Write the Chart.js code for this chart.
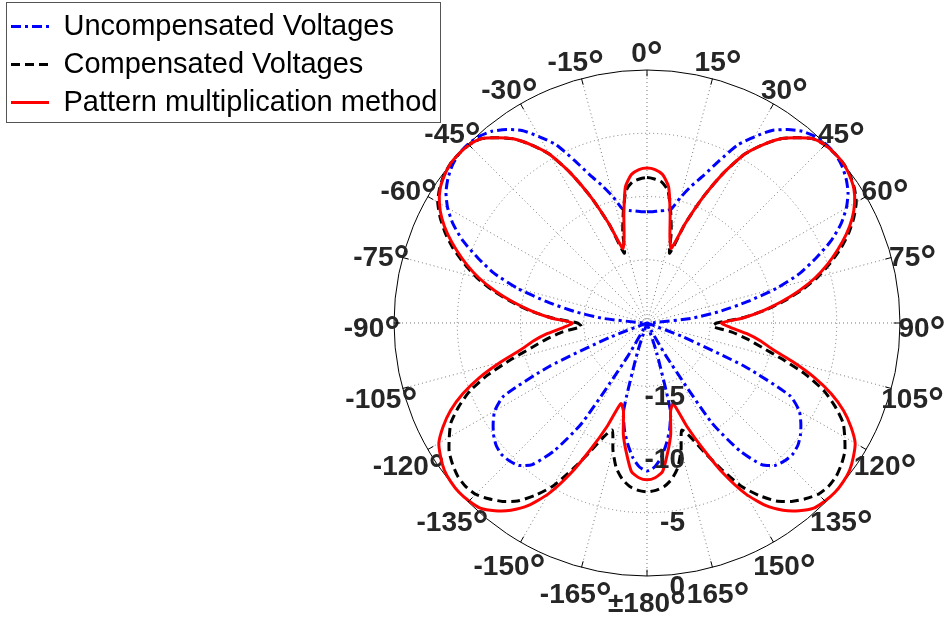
<!DOCTYPE html>
<html>
<head>
<meta charset="utf-8">
<script src="https://cdn.jsdelivr.net/npm/chart.js@4/dist/chart.umd.min.js"></script>
<style>
  html, body { margin: 0; padding: 0; background: #fff; }
</style>
</head>
<body>
<canvas id="patternChart" width="947" height="617"></canvas>
<script>
// pattern sampled every 3 degrees, 0 at the top, clockwise (183..357 = -177..-3)
const step = 3;
const angles = [];
for (let a = 0; a < 360; a += step) angles.push(a);

const seriesNames = ['Uncompensated Voltages', 'Compensated Voltages', 'Pattern multiplication method'];

// normalised pattern, dB
const uncompensated = [
  -11.2, -11.2, -11.1, -11.0, -10.8, -9.7, -8.6, -7.5, -5.95, -4.2,
  -3.0, -1.85, -1.1, -0.5, -0.15, 0, 0, -0.2, -0.55, -1.05,
  -1.8, -2.8, -4.1, -5.7, -7.3, -9.4, -11.9, -14.2, -16.5, -19.5,
  -20, -20, -20, -20, -20, -20, -20, -17, -11.5, -7.3,
  -6.1, -5.5, -5.0, -4.65, -4.5, -4.6, -4.85, -5.6, -7.5, -10.6,
  -17, -20, -20, -20, -17.5, -12.9, -11.4, -10.3, -9.3, -8.6,
  -8.3, -8.6, -9.3, -10.3, -11.4, -12.9, -17.5, -20, -20, -20,
  -17, -10.6, -7.5, -5.6, -4.85, -4.6, -4.5, -4.65, -5.0, -5.5,
  -6.1, -7.3, -11.5, -17, -20, -20, -20, -20, -20, -20,
  -20, -19.5, -16.5, -14.2, -11.9, -9.4, -7.3, -5.7, -4.1, -2.8,
  -1.8, -1.05, -0.55, -0.2, 0, 0, -0.15, -0.5, -1.1, -1.85,
  -3.0, -4.2, -5.95, -7.5, -8.6, -9.7, -10.8, -11.0, -11.1, -11.2
];
const compensated = [
  -8.5, -8.6, -8.8, -9.4, -11.0, -12.6, -14.2, -11.6, -9.1, -6.7,
  -4.6, -3.2, -2.0, -1.15, -0.4, -0.1, 0, 0, -0.15, -0.45,
  -0.9, -1.65, -2.55, -3.6, -4.8, -6.05, -7.5, -9.1, -10.7, -12.5,
  -14.5, -14.8, -13.3, -12.0, -10.7, -8.9, -6.8, -5.0, -3.7, -2.6,
  -1.95, -1.35, -1.0, -0.75, -0.7, -0.85, -1.3, -1.85, -2.6, -3.75,
  -5.1, -7.0, -8.8, -10.3, -11.1, -9.6, -8.3, -7.5, -7.0, -6.75,
  -6.65, -6.75, -7.0, -7.5, -8.3, -9.6, -11.1, -10.3, -8.8, -7.0,
  -5.1, -3.75, -2.6, -1.85, -1.3, -0.85, -0.7, -0.75, -1.0, -1.35,
  -1.95, -2.6, -3.7, -5.0, -6.8, -8.9, -10.7, -12.0, -13.3, -14.8,
  -14.5, -12.5, -10.7, -9.1, -7.5, -6.05, -4.8, -3.6, -2.55, -1.65,
  -0.9, -0.45, -0.15, 0, 0, -0.1, -0.4, -1.15, -2.0, -3.2,
  -4.6, -6.7, -9.1, -11.6, -14.2, -12.6, -11.0, -9.4, -8.8, -8.6
];
const patternMult = [
  -7.75, -7.85, -8.2, -9.1, -11.2, -13.0, -13.8, -11.6, -9.1, -6.7,
  -4.6, -3.2, -2.0, -1.15, -0.4, -0.1, 0, 0, -0.2, -0.5,
  -1.05, -1.8, -2.75, -3.85, -5.0, -6.25, -7.7, -9.25, -10.8, -12.4,
  -14.1, -13.4, -12.1, -10.9, -9.8, -8.0, -6.1, -4.4, -3.0, -1.9,
  -1.0, -0.55, -0.2, -0.05, 0, -0.1, -0.3, -0.9, -1.7, -2.8,
  -4.4, -6.6, -9.1, -11.3, -13.3, -12.8, -11.0, -9.6, -8.2, -7.75,
  -7.6, -7.75, -8.2, -9.6, -11.0, -12.8, -13.3, -11.3, -9.1, -6.6,
  -4.4, -2.8, -1.7, -0.9, -0.3, -0.1, 0, -0.05, -0.2, -0.55,
  -1.0, -1.9, -3.0, -4.4, -6.1, -8.0, -9.8, -10.9, -12.1, -13.4,
  -14.1, -12.4, -10.8, -9.25, -7.7, -6.25, -5.0, -3.85, -2.75, -1.8,
  -1.05, -0.5, -0.2, 0, 0, -0.1, -0.4, -1.15, -2.0, -3.2,
  -4.6, -6.7, -9.1, -11.6, -13.8, -13.0, -11.2, -9.1, -8.2, -7.85
];

// radial axis (dB)
const rMin = -20;
const rMax = 0;
const rStep = 5;

const FONT = '"Liberation Sans", Arial, Helvetica, sans-serif';
const TXT = '#262626';
const LABEL_SIZE = 28;

function angleText(a) {
  if (a % 15 !== 0) return '';
  if (a === 180) return '\u00b1180\u00b0';
  return (a > 180 ? a - 360 : a) + '\u00b0';
}

// legend floats in the top-left corner with a frame round it
const legendFrame = {
  id: 'legendFrame',
  afterLayout(chart) {
    const lg = chart.legend;
    lg.left = 2;
    lg.top = 3;
    lg.right = lg.left + lg.width;
    lg.bottom = lg.top + lg.height;
  },
  afterDraw(chart) {
    const boxes = chart.legend.legendHitBoxes;
    if (!boxes || !boxes.length) return;
    let x1 = 0, y1 = 0;
    boxes.forEach(b => {
      x1 = Math.max(x1, b.left + b.width);
      y1 = Math.max(y1, b.top + b.height);
    });
    const x0 = boxes[0].left - 5;
    const y0 = boxes[0].top - 10;
    const g = chart.ctx;
    g.save();
    g.strokeStyle = '#555';
    g.lineWidth = 1;
    g.strokeRect(Math.round(x0) + 0.5, Math.round(y0) + 0.5, Math.round(x1 + 3 - x0), Math.round(y1 + 5 - y0));
    g.restore();
  }
};

// matlab style angle labels: centred on a ring outside the circle, big raised degree ring
const angleLabels = {
  id: 'angleLabels',
  beforeDatasetsDraw(chart) {
    const s = chart.scales.r;
    const g = chart.ctx;
    const numFont = 'bold ' + LABEL_SIZE + 'px ' + FONT;
    const degFont = 'bold 40px ' + FONT;
    g.save();
    g.fillStyle = TXT;
    g.textAlign = 'left';
    g.textBaseline = 'alphabetic';
    angles.forEach((a, i) => {
      const txt = angleText(a);
      if (!txt) return;
      const num = txt.slice(0, -1);
      const p = s.getPointPosition(i, s.drawingArea + 22);
      g.font = numFont;
      const w1 = g.measureText(num).width;
      g.font = degFont;
      const w2 = g.measureText('\u00b0').width;
      const x0 = p.x - (w1 + w2) / 2;
      const base = p.y + 14;
      g.font = numFont;
      g.fillText(num, x0, base);
      g.font = degFont;
      g.fillText('\u00b0', x0 + w1, base + 8);
    });
    g.restore();
  }
};

// rho labels down the 180 degree spoke, short ticks inside the outer ring
const polarExtras = {
  id: 'polarExtras',
  afterDatasetsDraw(chart) {
    const s = chart.scales.r;
    const g = chart.ctx;
    g.save();
    g.strokeStyle = '#000';
    g.lineWidth = 1;
    angles.forEach((a, i) => {
      if (a % 15 !== 0) return;
      const p0 = s.getPointPositionForValue(i, rMax);
      const p1 = s.getPointPositionForValue(i, rMax - 0.5);
      g.beginPath();
      g.moveTo(p0.x, p0.y);
      g.lineTo(p1.x, p1.y);
      g.stroke();
    });
    const idx = angles.indexOf(180);
    g.font = 'bold ' + LABEL_SIZE + 'px ' + FONT;
    g.fillStyle = TXT;
    g.textAlign = 'right';
    g.textBaseline = 'middle';
    s.ticks.forEach(t => {
      if (t.value === s.min) return;
      const p = s.getPointPositionForValue(idx, t.value);
      g.fillText(t.label, p.x + 38, p.y + 11);
    });
    g.restore();
  }
};

new Chart(document.getElementById('patternChart'), {
  type: 'radar',
  data: {
    labels: angles,
    datasets: [
      { label: seriesNames[0], data: uncompensated, borderColor: '#0000ff', borderDash: [10, 4, 3, 4], order: 2 },
      { label: seriesNames[1], data: compensated, borderColor: '#000000', borderDash: [9, 5], order: 1 },
      { label: seriesNames[2], data: patternMult, borderColor: '#ff0000', borderDash: [], order: 0 }
    ]
  },
  options: {
    responsive: false,
    animation: false,
    devicePixelRatio: 1,
    layout: { padding: { left: 394, right: 47, top: 70, bottom: 41 } },
    elements: {
      point: { radius: 0, hoverRadius: 0, hitRadius: 0 },
      line: { borderWidth: 3, fill: false, tension: 0.2, borderJoinStyle: 'round' }
    },
    plugins: {
      tooltip: { enabled: false },
      legend: {
        position: 'chartArea',
        align: 'start',
        labels: {
          usePointStyle: true,
          pointStyle: 'line',
          pointStyleWidth: 38,
          padding: 9,
          color: '#000',
          font: { family: FONT, size: 29 },
          sort: (a, b) => a.datasetIndex - b.datasetIndex,
          generateLabels(chart) {
            const items = Chart.defaults.plugins.legend.labels.generateLabels(chart);
            items.forEach(it => {
              const ds = chart.data.datasets[it.datasetIndex];
              it.strokeStyle = ds.borderColor;
              it.lineDash = ds.borderDash;
              it.lineWidth = 3;
            });
            return items;
          }
        }
      }
    },
    scales: {
      r: {
        min: rMin,
        max: rMax,
        startAngle: 0,
        ticks: { stepSize: rStep, display: false },
        grid: {
          circular: true,
          color: c => c.tick.value === rMax ? '#000' : '#777',
          lineWidth: 1
        },
        border: { dash: c => c.tick.value === rMax ? [] : [1, 3] },
        angleLines: {
          color: '#777',
          lineWidth: c => (c.index * step) % 15 === 0 ? 1 : 0,
          borderDash: [1, 3]
        },
        pointLabels: { display: false, callback: a => angleText(a) }
      }
    }
  },
  plugins: [legendFrame, angleLabels, polarExtras]
});
</script>
</body>
</html>
